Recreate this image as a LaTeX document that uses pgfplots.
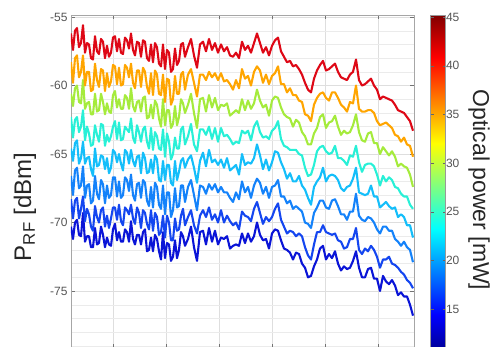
\documentclass[border=0pt]{standalone}
\usepackage{fontspec}
\setmainfont{Liberation Sans}
\usepackage{pgfplots}
\pgfplotsset{compat=1.18}
\usepackage{pgfplotstable}

\definecolor{lr}{RGB}{222,8,22}
\definecolor{lo}{RGB}{255,165,0}
\definecolor{lg}{RGB}{165,235,60}
\definecolor{lc}{RGB}{40,240,215}
\definecolor{ll}{RGB}{20,190,250}
\definecolor{lb}{RGB}{20,130,250}
\definecolor{lbb}{RGB}{20,70,240}
\definecolor{ld}{RGB}{10,20,215}
\definecolor{tickgray}{RGB}{85,85,85}

\pgfplotstableread{
x r o g c l b bb d
71 -56.2 -58.3 -60.6 -62.3 -64.6 -66.6 -68.3 -70.3
73 -57.4 -59.8 -61.5 -63.8 -65.5 -68.0 -69.7 -71.2
75 -56.0 -58.0 -60.2 -62.5 -64.2 -66.2 -68.4 -70.0
77 -55.8 -57.8 -60.0 -62.3 -64.0 -66.0 -68.2 -69.8
79 -57.2 -59.4 -61.2 -63.4 -65.7 -67.5 -69.7 -70.9
81 -56.9 -59.0 -61.3 -63.0 -65.3 -67.3 -69.0 -71.0
83 -55.6 -57.8 -59.6 -61.8 -64.1 -65.9 -68.1 -69.3
85 -57.6 -60.0 -61.7 -64.0 -65.7 -68.2 -69.9 -71.4
87 -56.9 -59.0 -61.3 -63.0 -65.3 -67.3 -69.0 -71.0
89 -57.0 -59.0 -61.2 -63.5 -65.2 -67.2 -69.4 -71.0
91 -58.0 -60.4 -62.1 -64.4 -66.1 -68.6 -70.3 -71.8
93 -58.1 -60.3 -62.1 -64.3 -66.6 -68.4 -70.6 -71.8
95 -56.4 -58.4 -60.6 -62.9 -64.6 -66.6 -68.8 -70.4
97 -57.5 -59.6 -61.9 -63.6 -65.9 -67.9 -69.6 -71.6
99 -57.7 -60.1 -61.8 -64.1 -65.8 -68.3 -70.0 -71.5
101 -56.6 -58.8 -60.6 -62.8 -65.1 -66.9 -69.1 -70.3
103 -56.8 -58.9 -61.2 -62.9 -65.2 -67.2 -68.9 -70.9
105 -58.0 -60.4 -62.1 -64.4 -66.1 -68.6 -70.3 -71.8
107 -57.1 -59.1 -61.3 -63.6 -65.3 -67.3 -69.5 -71.1
109 -57.9 -60.1 -61.9 -64.1 -66.4 -68.2 -70.4 -71.6
111 -57.6 -59.7 -62.0 -63.7 -66.0 -68.0 -69.7 -71.7
113 -56.5 -58.5 -60.7 -63.0 -64.7 -66.7 -68.9 -70.5
115 -56.4 -58.6 -60.4 -62.6 -64.9 -66.7 -68.9 -70.1
117 -57.5 -59.9 -61.6 -63.9 -65.6 -68.1 -69.8 -71.3
119 -56.6 -58.7 -61.0 -62.7 -65.0 -67.0 -68.7 -70.7
121 -57.6 -60.0 -61.7 -64.0 -65.7 -68.2 -69.9 -71.4
123 -57.7 -59.9 -61.7 -63.9 -66.2 -68.0 -70.2 -71.4
125 -56.5 -58.5 -60.7 -63.0 -64.7 -66.7 -68.9 -70.5
127 -56.7 -58.7 -60.9 -63.2 -64.9 -66.9 -69.1 -70.7
129 -57.3 -59.4 -61.7 -63.4 -65.7 -67.7 -69.4 -71.4
131 -56.2 -58.4 -60.2 -62.4 -64.7 -66.5 -68.7 -69.9
133 -57.4 -59.8 -61.5 -63.8 -65.5 -68.0 -69.7 -71.2
135 -57.8 -60.2 -61.9 -64.2 -65.9 -68.4 -70.1 -71.6
137 -56.8 -58.9 -61.2 -62.9 -65.2 -67.2 -68.9 -70.9
139 -56.9 -58.9 -61.1 -63.4 -65.1 -67.1 -69.3 -70.9
141 -57.9 -60.1 -61.9 -64.1 -66.4 -68.2 -70.4 -71.6
143 -56.7 -58.7 -60.9 -63.2 -64.9 -66.9 -69.1 -70.7
145 -56.8 -59.0 -60.8 -63.0 -65.3 -67.1 -69.3 -70.5
147 -58.0 -60.1 -62.4 -64.1 -66.4 -68.4 -70.1 -72.1
149 -58.2 -60.6 -62.3 -64.6 -66.3 -68.8 -70.5 -72.0
151 -57.0 -59.1 -61.4 -63.1 -65.4 -67.4 -69.1 -71.1
153 -58.3 -60.7 -62.4 -64.7 -66.4 -68.9 -70.6 -72.1
155 -56.9 -58.9 -61.1 -63.4 -65.1 -67.1 -69.3 -70.9
157 -57.2 -59.2 -61.4 -63.7 -65.4 -67.4 -69.6 -71.2
159 -58.4 -60.6 -62.4 -64.6 -66.9 -68.7 -70.9 -72.1
161 -58.6 -60.7 -63.0 -64.7 -67.0 -69.0 -70.7 -72.7
163 -57.0 -59.2 -61.0 -63.2 -65.5 -67.3 -69.5 -70.7
165 -58.8 -61.2 -62.9 -65.2 -66.9 -69.4 -71.1 -72.6
167 -57.4 -59.5 -61.8 -63.5 -65.8 -67.8 -69.5 -71.5
169 -57.6 -59.6 -61.8 -64.1 -65.8 -67.8 -70.0 -71.6
171 -59.0 -61.4 -63.1 -65.4 -67.1 -69.6 -71.3 -72.8
173 -58.8 -61.0 -62.8 -65.0 -67.3 -69.1 -71.3 -72.5
175 -57.3 -59.3 -61.5 -63.8 -65.5 -67.5 -69.7 -71.3
177 -58.5 -60.6 -62.9 -64.6 -66.9 -68.9 -70.6 -72.6
179 -58.2 -60.6 -62.3 -64.6 -66.3 -68.8 -70.5 -72.0
181 -57.0 -59.2 -61.0 -63.2 -65.5 -67.3 -69.5 -70.7
183 -56.9 -59.0 -61.3 -63.0 -65.3 -67.3 -69.0 -71.0
185 -57.9 -60.3 -62.0 -64.3 -66.0 -68.5 -70.2 -71.7
188 -57.2 -59.2 -61.4 -63.7 -65.4 -67.4 -69.6 -71.2
191 -56.6 -58.8 -60.6 -62.8 -65.1 -66.9 -69.1 -70.3
194 -57.8 -59.8 -62.0 -64.3 -66.0 -68.0 -70.2 -71.8
197 -58.7 -60.8 -63.1 -64.8 -67.1 -69.1 -70.8 -72.8
200 -57.0 -59.2 -61.0 -63.2 -65.5 -67.3 -69.5 -70.7
203 -56.8 -59.2 -60.9 -63.2 -64.9 -67.4 -69.1 -70.6
206 -57.5 -59.6 -61.9 -63.6 -65.9 -67.9 -69.6 -71.6
209 -56.6 -59.0 -60.7 -63.0 -64.7 -67.2 -68.9 -70.4
212 -57.4 -59.4 -61.6 -63.9 -65.6 -67.6 -69.8 -71.4
215 -56.9 -59.1 -60.9 -63.1 -65.4 -67.2 -69.4 -70.6
218 -57.6 -59.6 -61.8 -64.1 -65.8 -67.8 -70.0 -71.6
221 -57.0 -59.1 -61.4 -63.1 -65.4 -67.4 -69.1 -71.1
224 -57.5 -59.7 -61.5 -63.7 -66.0 -67.8 -70.0 -71.2
227 -57.2 -59.6 -61.3 -63.6 -65.3 -67.8 -69.5 -71.0
230 -57.8 -59.9 -62.2 -63.9 -66.2 -68.2 -69.9 -71.9
233 -57.9 -60.3 -62.0 -64.3 -66.0 -68.5 -70.2 -71.7
236 -57.6 -59.6 -61.8 -64.1 -65.8 -67.8 -70.0 -71.6
239 -58.0 -60.2 -62.0 -64.2 -66.5 -68.3 -70.5 -71.7
242 -56.8 -58.8 -61.0 -63.3 -65.0 -67.0 -69.2 -70.8
245 -57.4 -59.5 -61.8 -63.5 -65.8 -67.8 -69.5 -71.5
248 -57.1 -59.3 -61.1 -63.3 -65.6 -67.4 -69.6 -70.8
251 -57.6 -60.0 -61.7 -64.0 -65.7 -68.2 -69.9 -71.4
254 -56.9 -59.0 -61.3 -63.0 -65.3 -67.3 -69.0 -71.0
257 -56.2 -58.6 -60.3 -62.6 -64.3 -66.8 -68.5 -70.0
260 -56.9 -58.9 -61.1 -63.4 -65.1 -67.1 -69.3 -70.9
263 -57.6 -59.8 -61.6 -63.8 -66.1 -67.9 -70.1 -71.3
266 -57.2 -59.2 -61.4 -63.7 -65.4 -67.4 -69.6 -71.2
269 -57.8 -59.9 -62.2 -63.9 -66.2 -68.2 -69.9 -71.9
272 -57.1 -59.3 -61.1 -63.3 -65.6 -67.4 -69.6 -70.8
275 -56.7 -59.1 -60.8 -63.1 -64.8 -67.3 -69.0 -70.5
278 -56.5 -58.6 -60.9 -62.6 -64.9 -66.9 -68.6 -70.6
281 -57.5 -59.9 -61.6 -63.9 -65.6 -68.1 -69.8 -71.3
284 -57.9 -59.9 -62.1 -64.4 -66.1 -68.1 -70.3 -71.9
287 -58.3 -60.5 -62.3 -64.5 -66.8 -68.6 -70.8 -72.0
290 -58.2 -60.2 -62.4 -64.7 -66.4 -68.4 -70.6 -72.2
293 -58.6 -60.7 -63.0 -64.7 -67.0 -69.0 -70.7 -72.7
296 -58.5 -60.7 -62.5 -64.7 -67.0 -68.8 -71.0 -72.2
299 -58.8 -61.1 -62.7 -65.0 -66.6 -69.0 -70.8 -72.3
302 -59.2 -61.2 -63.4 -65.1 -67.3 -69.2 -71.0 -73.0
305 -59.8 -62.1 -63.7 -66.0 -67.6 -70.0 -71.8 -73.3
308 -60.3 -62.2 -64.3 -66.6 -68.2 -70.1 -72.4 -74.0
311 -60.5 -62.6 -64.3 -66.5 -68.7 -70.4 -72.7 -73.9
314 -59.5 -61.4 -63.5 -65.8 -67.4 -69.3 -71.6 -73.2
317 -58.9 -60.9 -63.1 -64.8 -67.0 -68.9 -70.7 -72.7
320 -58.5 -60.6 -62.3 -64.5 -66.7 -68.4 -70.7 -71.9
323 -58.2 -60.5 -62.1 -64.4 -66.0 -68.4 -70.2 -71.7
326 -58.9 -60.9 -63.1 -64.8 -67.0 -68.9 -70.7 -72.7
329 -58.8 -61.1 -62.7 -65.0 -66.6 -69.0 -70.8 -72.3
332 -58.6 -60.5 -62.6 -64.9 -66.5 -68.4 -70.9 -72.6
335 -58.4 -60.5 -62.2 -64.4 -66.6 -68.3 -70.8 -72.1
338 -59.0 -60.9 -63.0 -65.3 -66.9 -68.8 -71.3 -73.0
341 -59.4 -61.4 -63.6 -65.3 -67.5 -69.4 -71.4 -73.5
344 -59.5 -61.6 -63.3 -65.5 -67.7 -69.4 -71.9 -73.2
347 -59.6 -61.9 -63.5 -65.8 -67.4 -69.8 -71.8 -73.4
350 -59.2 -61.2 -63.4 -65.1 -67.3 -69.2 -71.2 -73.3
353 -59.0 -61.3 -62.9 -65.2 -66.8 -69.2 -71.2 -72.8
356 -58.1 -60.0 -62.1 -64.4 -66.0 -67.9 -70.4 -72.1
359 -59.6 -61.7 -63.4 -65.6 -67.8 -69.5 -72.0 -73.3
362 -60.0 -61.9 -64.0 -66.3 -67.9 -69.8 -72.3 -74.0
365 -59.9 -61.9 -64.1 -65.8 -68.0 -69.9 -71.9 -74.0
368 -59.7 -61.8 -63.5 -65.7 -67.9 -69.6 -72.1 -73.4
371 -59.5 -61.8 -63.4 -65.7 -67.3 -69.7 -71.7 -73.3
374 -60.0 -62.0 -64.2 -65.9 -68.1 -70.0 -72.0 -74.1
377 -60.3 -62.6 -64.2 -66.5 -68.1 -70.5 -72.5 -74.1
380 -61.0 -62.9 -65.0 -67.3 -68.9 -70.8 -73.3 -75.0
383 -60.8 -62.8 -64.5 -66.6 -68.7 -70.3 -72.7 -73.9
386 -60.9 -62.7 -64.8 -67.0 -68.5 -70.3 -72.7 -74.3
389 -61.0 -62.9 -65.1 -66.7 -68.8 -70.6 -72.5 -74.5
392 -61.1 -63.1 -64.8 -66.9 -69.0 -70.6 -73.0 -74.2
395 -61.4 -63.6 -65.2 -67.4 -68.9 -71.2 -73.1 -74.6
398 -61.8 -63.7 -65.9 -67.5 -69.6 -71.4 -73.3 -75.3
401 -61.9 -64.1 -65.7 -67.9 -69.4 -71.7 -73.6 -75.1
404 -62.0 -63.8 -65.9 -68.1 -69.6 -71.4 -73.8 -75.4
407 -62.3 -64.3 -66.0 -68.1 -70.2 -71.8 -74.2 -75.4
410 -62.6 -64.4 -66.5 -68.7 -70.2 -72.0 -74.4 -76.0
413 -63.3 -65.2 -67.4 -69.0 -71.1 -72.9 -74.8 -76.8
}\data

\begin{document}
\begin{tikzpicture}
\begin{axis}[
  scale only axis, width=343pt, height=333pt,
  xmin=71, xmax=414, ymin=-79.16, ymax=-54.85,
  xtick={113,166,219,272,325,378}, xticklabels={},
  ytick={-75,-70,-65,-60,-55},
  minor ytick={-79,-78,...,-55},
  grid=both,
  major grid style={draw=black!13, line width=0.5pt},
  minor grid style={draw=black!8, line width=0.4pt},
  axis line style={draw=black!35, line width=0.6pt},
  tick align=inside,
  major tick length=4pt, minor tick length=0pt,
  tick style={draw=black!55, line width=0.5pt},
  yticklabel style={font=\fontsize{12}{14}\selectfont, text=tickgray},
  /pgf/number format/assume math mode=true,
  colormap/jet,
  colorbar,
  point meta min=10, point meta max=45.2,
  colorbar style={
    at={(parent axis.north east)}, anchor=north west, xshift=8pt,
    scale only axis, width=15pt, height=342.6pt,
    ytick={15,20,...,45},
    yticklabel style={font=\fontsize{12}{14}\selectfont, text=tickgray, xshift=-3pt},
    axis line style={draw=black!40, line width=0.5pt},
    tick align=inside, major tick length=3pt,
    tick style={draw=black!60},
    /pgf/number format/assume math mode=true,
  },
  every axis plot/.append style={no marks, line width=2.1pt, line join=round},
]
\addplot[color=ld]  table[x=x,y=d]{\data};
\addplot[color=lbb] table[x=x,y=bb]{\data};
\addplot[color=lb]  table[x=x,y=b]{\data};
\addplot[color=ll]  table[x=x,y=l]{\data};
\addplot[color=lc]  table[x=x,y=c]{\data};
\addplot[color=lg]  table[x=x,y=g]{\data};
\addplot[color=lo]  table[x=x,y=o]{\data};
\addplot[color=lr]  table[x=x,y=r]{\data};
\end{axis}
\node[rotate=90, anchor=center, font=\fontsize{24}{28}\selectfont, text=black!85] at (-46pt,141pt) {P\textsubscript{RF} [dBm]};
\node[rotate=-90, anchor=center, font=\fontsize{23}{27}\selectfont, text=black!85] at (408pt,158pt) {Optical power [mW]};
\pgfresetboundingbox
\useasboundingbox (-71pt,1pt) rectangle (421pt,348pt);
\end{tikzpicture}
\end{document}
